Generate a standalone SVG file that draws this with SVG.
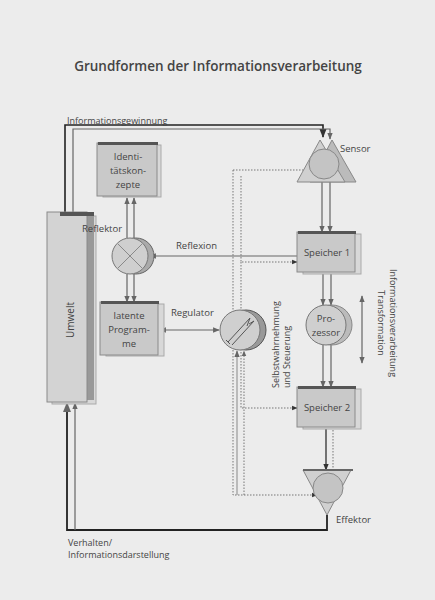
<svg xmlns="http://www.w3.org/2000/svg" width="435" height="600" viewBox="0 0 435 600">
<defs>
<style>
text{font-family:"Open Sans","Noto Sans",sans-serif;fill:#444}
.lbl{font-size:9px}
.node{font-size:9.5px}
.box{fill:#c9c9c9;stroke:#8a8a8a;stroke-width:1}
.sh{fill:#d8d8d8;stroke:#aaa;stroke-width:1}
.top{fill:#555}
.ln{fill:none;stroke:#666;stroke-width:1.2}
.blk{fill:none;stroke:#222;stroke-width:1.6}
.dot{fill:none;stroke:#777;stroke-width:1;stroke-dasharray:1.5 1.5}
.circ{fill:#cfcfcf;stroke:#777;stroke-width:1}
</style>
<marker id="ah" viewBox="0 0 10 10" refX="9" refY="5" markerWidth="5.5" markerHeight="5.5" orient="auto-start-reverse"><path d="M0,1 L10,5 L0,9 z" fill="#666"/></marker>
<marker id="ahd" viewBox="0 0 10 10" refX="9" refY="5" markerWidth="5.5" markerHeight="5.5" orient="auto-start-reverse"><path d="M0,1 L10,5 L0,9 z" fill="#333"/></marker>
</defs>
<rect x="0" y="0" width="435" height="600" fill="#ececec"/>
<text x="218" y="71" text-anchor="middle" style="font-size:13.5px;font-weight:600" fill="#555">Grundformen der Informationsverarbeitung</text>

<g id="connectors">
<path class="blk" d="M65,213 V125 H323 V137" marker-end="url(#ahd)"/>
<path class="ln" d="M73,213 V129 H330 V139" marker-end="url(#ah)"/>
<path class="ln" d="M127,238 V198" marker-end="url(#ah)"/>
<path class="ln" d="M134,238 V198" marker-end="url(#ah)"/>
<path class="ln" d="M127,274 V302" marker-end="url(#ah)"/>
<path class="ln" d="M134,274 V302" marker-end="url(#ah)"/>
<path class="ln" d="M297,256 H150" marker-end="url(#ah)"/>
<path class="ln" d="M322,182 V232" marker-end="url(#ah)"/>
<path class="ln" d="M330,182 V232" marker-end="url(#ah)"/>
<path class="ln" d="M323,272 V305" marker-end="url(#ah)"/>
<path class="ln" d="M331,272 V305" marker-end="url(#ah)"/>
<path class="ln" d="M323,345 V387" marker-end="url(#ah)"/>
<path class="ln" d="M331,345 V387" marker-end="url(#ah)"/>
<path class="blk" d="M326,427 V470" marker-end="url(#ahd)" style="stroke-width:1.2"/>
<path class="dot" d="M333,427 V469"/>
<path class="ln" d="M160,330 H219" marker-start="url(#ah)" marker-end="url(#ah)"/>
<path class="dot" d="M233,170 H315" marker-end="url(#ahd)"/>
<path class="dot" d="M233,170 V495 H317" marker-end="url(#ahd)"/>
<path class="dot" d="M241,176 V262 H297" marker-end="url(#ahd)"/>
<path class="dot" d="M241,262 V408 H297" marker-end="url(#ahd)"/>
<path class="ln" d="M237,495 V351" marker-end="url(#ah)" style="stroke:#999"/>
<path class="dot" d="M244,495 V351" marker-end="url(#ah)"/>
<path class="ln" d="M362,296 V363" marker-start="url(#ah)" marker-end="url(#ah)"/>
<path class="blk" d="M327,515 V530 H67 V403" marker-end="url(#ah)" style="stroke-width:1.8"/>
<path class="ln" d="M75,530 V403" marker-end="url(#ah)"/>
</g>

<g id="umwelt">
<rect class="sh" x="52" y="216" width="44" height="188"/>
<rect x="84" y="214" width="10" height="186" fill="#999"/>
<rect class="box" x="47" y="212" width="40" height="190" style="fill:#d3d3d3"/>
<rect x="60" y="212" width="34" height="4" class="top"/>
<text class="node" transform="translate(74,320) rotate(-90)" text-anchor="middle" style="font-size:10px">Umwelt</text>
</g>

<g id="identitaetskonzepte">
<rect class="sh" x="103" y="145" width="58" height="52"/>
<rect class="box" x="97" y="143" width="60" height="53"/>
<rect x="98" y="142" width="60" height="3" class="top"/>
<text class="node" x="128" y="160" text-anchor="middle">Identi-</text>
<text class="node" x="128" y="174" text-anchor="middle">tätskon-</text>
<text class="node" x="128" y="188" text-anchor="middle">zepte</text>
</g>

<g id="reflektor">
<circle cx="136" cy="256" r="18" fill="#aaa" stroke="#666"/>
<circle class="circ" cx="130" cy="256" r="18"/>
<path d="M118,244 L142,268 M142,244 L118,268" stroke="#777" stroke-width="0.8"/>
<text class="lbl" x="82" y="232" style="font-size:9.5px">Reflektor</text>
</g>
<text class="lbl" x="176" y="249" style="font-size:9.5px">Reflexion</text>

<g id="latente-programme">
<rect class="sh" x="106" y="304" width="58" height="52"/>
<rect class="box" x="100" y="302" width="58" height="53"/>
<rect x="101" y="301" width="58" height="3" class="top"/>
<text class="node" x="129" y="319" text-anchor="middle">latente</text>
<text class="node" x="129" y="333" text-anchor="middle">Program-</text>
<text class="node" x="129" y="347" text-anchor="middle">me</text>
</g>

<g id="regulator">
<circle cx="246" cy="330" r="20" fill="#999" stroke="#555"/>
<circle class="circ" cx="240" cy="330" r="20"/>
<path d="M228,342 L250,318 L247,326 M232,345 L254,321 L249,324" fill="none" stroke="#555" stroke-width="1"/>
<path d="M226,340 L230,344" stroke="#555"/>
<text class="lbl" x="171" y="316" style="font-size:9.5px">Regulator</text>
</g>

<g id="sensor">
<path d="M310,182 L332,140 L356,182 z" fill="#bbb" stroke="#888"/>
<path d="M297,182 L320,140 L345,182 z" fill="#d0d0d0" stroke="#888"/>
<circle cx="324" cy="164" r="15" fill="#c4c4c4" stroke="#888"/>
<text class="lbl" x="340" y="152" style="font-size:9.5px">Sensor</text>
</g>

<g id="speicher1">
<rect class="sh" x="303" y="234" width="58" height="40"/>
<rect class="box" x="297" y="232" width="58" height="40"/>
<rect x="298" y="231" width="58" height="3" class="top"/>
<text class="node" x="327" y="256" text-anchor="middle">Speicher 1</text>
</g>

<g id="prozessor">
<circle cx="332" cy="325" r="20" fill="#bbb" stroke="#888"/>
<circle class="circ" cx="326" cy="325" r="20"/>
<text class="node" x="326" y="322" text-anchor="middle">Pro-</text>
<text class="node" x="326" y="336" text-anchor="middle">zessor</text>
</g>

<g id="speicher2">
<rect class="sh" x="303" y="389" width="58" height="40"/>
<rect class="box" x="297" y="387" width="58" height="40"/>
<rect x="298" y="386" width="58" height="3" class="top"/>
<text class="node" x="327" y="411" text-anchor="middle">Speicher 2</text>
</g>

<g id="effektor">
<path d="M303,470 L351,470 L327,515 z" fill="#d0d0d0" stroke="#888"/>
<rect x="303" y="469" width="50" height="2" fill="#666"/>
<circle cx="328" cy="488" r="15" fill="#c4c4c4" stroke="#888"/>
<text class="lbl" x="336" y="523" style="font-size:9.5px">Effektor</text>
</g>

<text class="lbl" x="67" y="124">Informationsgewinnung</text>
<text class="lbl" x="68" y="546">Verhalten/</text>
<text class="lbl" x="68" y="558">Informationsdarstellung</text>
<text class="lbl" transform="translate(279,388) rotate(-90)">Selbstwahrnehmung</text>
<text class="lbl" transform="translate(290,388) rotate(-90)">und Steuerung</text>
<text class="lbl" transform="translate(390,323) rotate(90)" text-anchor="middle">Informationsverarbeitung</text>
<text class="lbl" transform="translate(378,323) rotate(90)" text-anchor="middle">Transformation</text>
</svg>
